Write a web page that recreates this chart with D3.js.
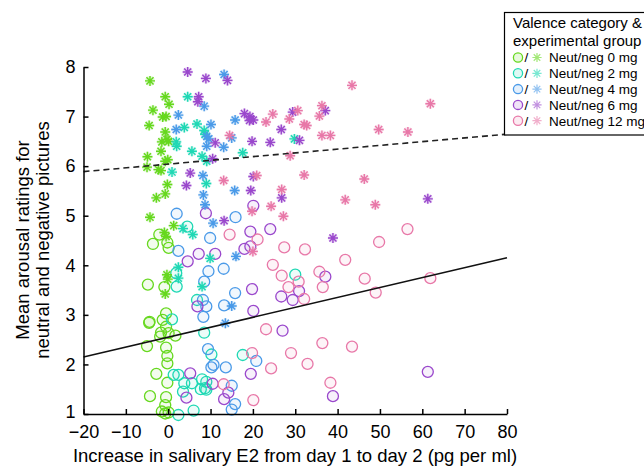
<!DOCTYPE html>
<html>
<head>
<meta charset="utf-8">
<script src="https://cdn.jsdelivr.net/npm/d3@7"></script>
<style>
  body { margin: 0; background: #fff; }
  text { font-family: "Liberation Sans", Arial, sans-serif; }
</style>
</head>
<body>
<div id="chart"></div>
<script>
// Chart size
var svgWidth = 644;
var svgHeight = 466;

var margin = { top: 67, right: 137, bottom: 52, left: 83.5 };

// Groups (dose) and colours
var groups = ["Neut/neg 0 mg", "Neut/neg 2 mg", "Neut/neg 4 mg", "Neut/neg 6 mg", "Neut/neg 12 mg"];
var colors = ["#66d81e", "#1fd8b4", "#4a9ae8", "#9a48cc", "#e878a8"];

var xTicks = [-20, -10, 0, 10, 20, 30, 40, 50, 60, 70, 80];
var yTicks = [1, 2, 3, 4, 5, 6, 7, 8];

// Neutral pictures (circles), [E2 increase, rating]
var neut0 = [[-2.1,4.62],[-3.6,4.43],[-0.2,4.46],[0.1,4.35],[-4.8,3.61],[-0.9,3.56],[-0.5,3.03],
  [-4.4,2.86],[-4.5,2.84],[-1.3,2.9],[-0.5,2.76],[-1.7,2.64],[0.1,2.63],[-1.9,2.56],[1.7,2.58],
  [-5.0,2.37],[-0.5,2.34],[-0.2,2.17],[-0.2,2.02],[-2.8,1.81],[-0.2,1.63],[-4.3,1.36],[-0.5,1.34],
  [-0.7,1.18],[-1.5,1.05],[-0.7,1.01],[0.1,1.03]];
var neut2 = [[4.5,4.78],[1.9,3.84],[2.0,3.57],[0.9,2.91],[6.8,3.3],[8.5,2.64],[10.2,2.2],[1.3,1.79],
  [2.4,1.79],[3.8,1.62],[5.6,1.62],[8.0,1.7],[9.0,1.65],[8.7,1.52],[7.7,1.5],[9.0,1.49],[3.5,1.45],
  [6.0,1.07],[2.4,0.98],[17.6,2.19],[30.0,3.81]];
var neut4 = [[2.0,5.04],[15.9,4.97],[9.9,4.55],[2.4,4.29],[13.1,3.93],[9.5,3.88],[8.5,3.67],[15.8,3.44],
  [8.2,3.3],[9.0,3.17],[13.2,3.19],[8.3,2.96],[9.4,2.31],[10.7,1.99],[10.2,1.94],[13.6,1.94],[15.0,1.57],
  [15.8,1.2],[15.0,1.09],[20.8,2.07]];
var neut6 = [[8.9,5.05],[4.6,4.08],[7.2,4.23],[11.1,4.23],[6.9,3.17],[5.2,1.82],[10.5,1.61],[4.3,1.33],
  [14.2,1.43],[13.2,1.3],[20.1,5.2],[19.4,4.68],[24.1,4.73],[18.0,4.33],[19.4,4.38],[19.8,3.52],
  [26.7,3.37],[29.4,3.3],[30.9,3.48],[37.1,3.77],[20.1,3.08],[27.0,2.68],[19.5,1.81],[38.9,1.36],[61.3,1.85]];
var neut12 = [[14.5,4.62],[21.1,4.52],[27.4,4.36],[32.3,4.32],[41.8,4.11],[24.7,4.01],[49.8,4.47],
  [26.8,3.79],[30.8,3.67],[28.4,3.56],[32.1,3.32],[35.7,3.87],[36.5,3.56],[46.4,3.73],[49.0,3.45],
  [23.1,2.71],[36.4,2.43],[43.4,2.36],[29.0,2.23],[19.8,2.23],[32.9,2.01],[24.3,1.92],[13.1,1.6],
  [38.3,1.63],[20.1,1.28],[56.5,4.73],[61.9,3.74]];

// Negative pictures (asterisks)
var neg0 = [[-4.3,7.72],[-0.7,7.4],[0.2,7.25],[-3.6,7.13],[-1.3,6.99],[-0.5,7.0],[-4.5,6.82],[-0.7,6.69],
  [-0.3,6.54],[-1.5,6.49],[0.1,6.5],[-1.7,6.3],[-4.9,6.19],[-0.1,6.13],[-0.7,6.1],[-5.0,5.98],
  [-2.3,5.93],[-1.7,5.91],[-0.2,5.63],[-0.7,5.44],[-2.8,5.36],[-4.3,4.97],[1.3,4.8],[-0.9,4.66],
  [-0.5,4.58],[-0.3,3.81],[-0.1,3.72],[-0.7,3.42]];
var neg2 = [[4.6,7.4],[3.8,6.78],[6.8,6.85],[8.5,6.72],[8.7,6.64],[1.9,6.49],[2.0,6.4],[5.6,6.3],
  [8.0,6.2],[9.1,6.1],[0.9,5.88],[17.6,6.27],[29.8,6.55],[9.0,5.65],[3.5,4.74],[5.8,4.62],[9.9,4.14],
  [2.4,3.96],[2.4,3.74],[8.0,3.57]];
var neg4 = [[13.2,7.85],[8.5,7.21],[2.4,7.03],[1.9,6.74],[10.1,6.84],[9.1,6.6],[9.6,6.55],[15.0,6.57],
  [9.1,6.4],[13.1,6.38],[15.8,6.93],[8.2,5.81],[8.3,5.42],[8.7,5.22],[15.7,5.51],[10.6,4.85],[16.0,4.18],
  [15.0,3.18],[13.5,2.83]];
var neg6 = [[4.6,7.9],[8.9,7.77],[14.0,7.73],[7.2,7.4],[7.0,7.3],[11.1,6.47],[10.5,6.15],[5.2,5.86],
  [4.3,5.61],[13.2,4.9],[18.0,7.06],[19.3,7.0],[19.2,6.92],[20.1,6.93],[26.7,6.74],[29.4,7.09],
  [19.8,6.5],[24.1,6.48],[31.0,6.52],[20.1,5.79],[19.5,5.51],[26.8,5.36],[37.1,7.12],[38.9,4.55],[61.3,5.34]];
var neg12 = [[43.4,7.63],[49.7,6.74],[36.3,7.22],[35.7,7.01],[30.6,7.12],[28.6,6.95],[24.7,7.05],
  [23.1,6.89],[32.1,6.84],[32.7,6.82],[36.3,6.62],[38.3,6.62],[14.5,6.62],[28.8,6.21],[20.9,5.81],
  [13.1,5.71],[32.1,5.82],[46.3,5.74],[26.8,5.53],[41.8,5.32],[48.9,5.22],[24.3,5.19],[19.8,5.09],
  [27.2,4.99],[61.9,7.26],[56.6,6.69],[20.0,4.28]];

// Regression lines (end points)
var neutFit = [[-20, 2.15], [80, 4.15]];
var negFit = [[-20, 5.89], [80, 6.645]];

var neutSets = [neut0, neut2, neut4, neut6, neut12];
var negSets = [neg0, neg2, neg4, neg6, neg12];

var svg = d3.select("#chart")
  .append("svg")
  .attr("width", svgWidth)
  .attr("height", svgHeight);

var xScale = d3.scaleLinear()
  .domain([-20, 80])
  .range([margin.left, svgWidth - margin.right]);

var yScale = d3.scaleLinear()
  .domain([1, 8])
  .range([svgHeight - margin.bottom, margin.top]);

// 8-arm asterisk path
function asterisk(r) {
  var d = r * Math.SQRT1_2;
  return "M" + (-r) + ",0L" + r + ",0M0," + (-r) + "L0," + r +
    "M" + (-d) + "," + (-d) + "L" + d + "," + d +
    "M" + (-d) + "," + d + "L" + d + "," + (-d);
}

// Circles
neutSets.forEach(function(set, i) {
  svg.append("g").selectAll("circle")
    .data(set)
    .enter()
    .append("circle")
    .attr("cx", d => xScale(d[0]))
    .attr("cy", d => yScale(d[1]))
    .attr("r", 5.5)
    .attr("fill", colors[i])
    .attr("fill-opacity", 0.08)
    .attr("stroke", colors[i])
    .attr("stroke-width", 1.3);
});

// Asterisks
negSets.forEach(function(set, i) {
  var g = svg.append("g");
  g.selectAll("path.halo")
    .data(set)
    .enter()
    .append("path")
    .attr("transform", d => `translate(${xScale(d[0])},${yScale(d[1])})`)
    .attr("d", asterisk(5))
    .attr("stroke", colors[i])
    .attr("stroke-opacity", 0.22)
    .attr("stroke-width", 3)
    .attr("fill", "none");
  g.selectAll("path.star")
    .data(set)
    .enter()
    .append("path")
    .attr("transform", d => `translate(${xScale(d[0])},${yScale(d[1])})`)
    .attr("d", asterisk(5))
    .attr("stroke", colors[i])
    .attr("stroke-width", 1.4)
    .attr("fill", "none");
});

// Fit lines
var line = d3.line()
  .x(d => xScale(d[0]))
  .y(d => yScale(d[1]));

svg.append("path")
  .datum(neutFit)
  .attr("d", line)
  .attr("fill", "none")
  .attr("stroke", "#111")
  .attr("stroke-width", 1.5);

svg.append("path")
  .datum(negFit)
  .attr("d", line)
  .attr("fill", "none")
  .attr("stroke", "#222")
  .attr("stroke-width", 1.6)
  .attr("stroke-dasharray", "6,4");

// Axes
var bottomAxis = d3.axisBottom(xScale)
  .tickValues(xTicks)
  .tickSizeInner(-5)
  .tickSizeOuter(0)
  .tickPadding(11);

var leftAxis = d3.axisLeft(yScale)
  .tickValues(yTicks)
  .tickFormat(d3.format("d"))
  .tickSizeInner(-5)
  .tickSizeOuter(0)
  .tickPadding(8);

var xAxisG = svg.append("g")
  .attr("transform", `translate(0, ${svgHeight - margin.bottom})`)
  .call(bottomAxis);

var yAxisG = svg.append("g")
  .attr("transform", `translate(${margin.left}, 0)`)
  .call(leftAxis);

[xAxisG, yAxisG].forEach(function(g) {
  g.select(".domain").attr("stroke", "#000").attr("stroke-width", 1.5);
  g.selectAll(".tick line").attr("stroke", "#000").attr("stroke-width", 1.5);
  g.selectAll(".tick text")
    .attr("fill", "#000")
    .style("font-family", "'Liberation Sans', Arial, sans-serif")
    .style("font-size", "18px");
});

// nudge the lowest y label up a little so it clears the "-20"
yAxisG.selectAll(".tick text").filter(d => d === 1).attr("dy", "0.2em");

// Axis labels
svg.append("text")
  .text("Increase in salivary E2 from day 1 to day 2 (pg per ml)")
  .attr("x", 295)
  .attr("y", 462)
  .attr("text-anchor", "middle")
  .style("font-size", "18.5px");

var yMid = 240;
svg.append("text")
  .text("Mean arousal ratings for")
  .attr("transform", `translate(29, ${yMid}) rotate(-90)`)
  .attr("text-anchor", "middle")
  .style("font-size", "18.5px");

svg.append("text")
  .text("neutral and negative pictures")
  .attr("transform", `translate(49, ${yMid}) rotate(-90)`)
  .attr("text-anchor", "middle")
  .style("font-size", "18.5px");

// Legend
var legend = svg.append("g");

legend.append("rect")
  .attr("x", 504.5)
  .attr("y", 12.5)
  .attr("width", 160)
  .attr("height", 122.5)
  .attr("fill", "#fff")
  .attr("stroke", "#000")
  .attr("stroke-width", 1.2);

legend.append("text")
  .text("Valence category &")
  .attr("x", 513)
  .attr("y", 28)
  .style("font-size", "15px");

legend.append("text")
  .text("experimental group")
  .attr("x", 513)
  .attr("y", 46)
  .style("font-size", "15px");

groups.forEach(function(name, i) {
  var cy = 57.5 + i * 15.8;
  legend.append("circle")
    .attr("cx", 518)
    .attr("cy", cy)
    .attr("r", 4.6)
    .attr("fill", colors[i])
    .attr("fill-opacity", 0.15)
    .attr("stroke", colors[i])
    .attr("stroke-width", 1.3);
  legend.append("text")
    .text("/")
    .attr("x", 524.5)
    .attr("y", cy + 4.8)
    .style("font-size", "13.5px");
  legend.append("path")
    .attr("transform", `translate(537, ${cy})`)
    .attr("d", asterisk(4.6))
    .attr("stroke", colors[i])
    .attr("stroke-opacity", 0.6)
    .attr("stroke-width", 1.2)
    .attr("fill", "none");
  legend.append("text")
    .text(name)
    .attr("x", 549)
    .attr("y", cy + 4.8)
    .style("font-size", "13.5px");
});
</script>
</body>
</html>
